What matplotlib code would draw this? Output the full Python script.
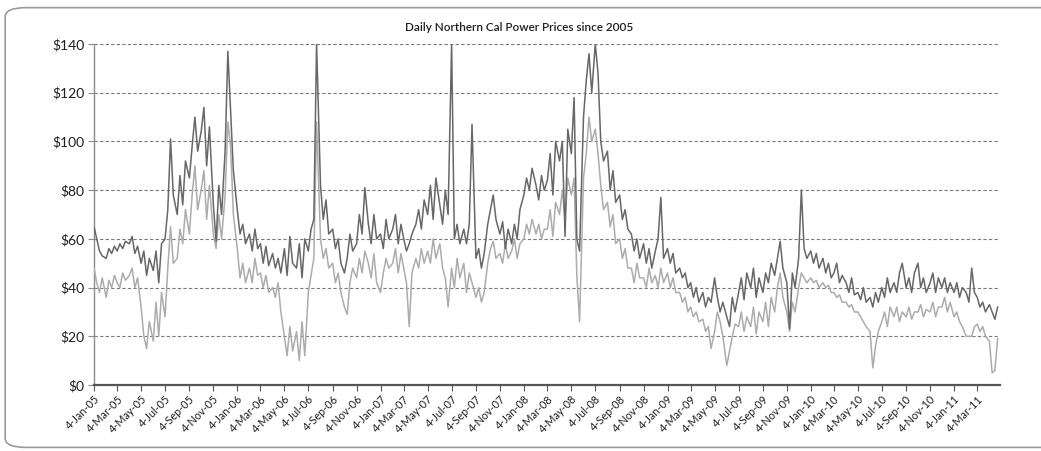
import matplotlib
matplotlib.use("Agg")
import matplotlib.pyplot as plt
import matplotlib.dates as mdates
from matplotlib.patches import FancyBboxPatch
from matplotlib.ticker import FuncFormatter, MultipleLocator
import pandas as pd

# ---- data: 4 readings per month (days 4, 11, 18, 25), Jan-2005 .. Apr-2011 ----
sample_days = [4, 11, 18, 25]
first_month = "2005-01"
last_month = "2011-04"

peak_prices = [
    # 2005
    65, 60, 55, 53,   52, 56, 54, 57,   55, 58, 56, 59,   58, 61, 54, 57,
    50, 55, 45, 52,   47, 55, 42, 58,   60, 72, 101, 78,  70, 86, 74, 92,
    85, 98, 110, 96,  104, 114, 90, 106, 74, 59, 82, 70,  96, 137, 112, 88,
    # 2006
    72, 62, 66, 58,   62, 55, 64, 56,   58, 50, 57, 49,   54, 48, 52, 46,
    56, 45, 61, 50,   48, 58, 44, 60,   55, 64, 68, 140,  82, 68, 76, 62,
    64, 56, 60, 50,   46, 52, 62, 55,   58, 70, 62, 81,   66, 58, 70, 60,
    # 2007
    62, 56, 68, 60,   64, 70, 58, 66,   60, 55, 58, 62,   66, 72, 64, 76,
    70, 82, 68, 85,   74, 66, 80, 70,   140, 60, 66, 58,  64, 58, 66, 107,
    52, 56, 48, 54,   66, 72, 78, 68,   62, 67, 56, 64,   58, 66, 60, 72,
    # 2008
    78, 85, 80, 89,   82, 76, 86, 80,   84, 95, 78, 100,  92, 100, 61, 105,
    95, 118, 60, 55,  110, 125, 136, 120, 140, 128, 100, 92, 96, 80, 88, 75,
    78, 68, 72, 64,   62, 55, 60, 52,   58, 50, 56, 48,   55, 60, 77, 52,
    # 2009
    56, 50, 54, 46,   48, 44, 46, 40,   42, 36, 40, 34,   38, 32, 36, 34,
    44, 36, 30, 34,   28, 24, 36, 30,   38, 44, 35, 46,   40, 48, 36, 44,
    38, 46, 42, 50,   45, 52, 59, 48,   42, 23, 46, 40,   52, 80, 56, 52,
    # 2010
    55, 50, 54, 48,   52, 46, 50, 44,   46, 50, 42, 45,   42, 38, 44, 37,
    38, 35, 40, 34,   36, 32, 38, 34,   40, 36, 44, 38,   42, 38, 46, 50,
    40, 44, 38, 46,   50, 40, 44, 38,   42, 46, 38, 44,   40, 44, 38, 42,
    # 2011
    38, 42, 36, 40,   38, 34, 48, 38,   36, 32, 34, 30,   33, 30, 27, 32,
]

offpeak_prices = [
    # 2005
    48, 42, 38, 44,   36, 43, 40, 45,   42, 40, 46, 43,   45, 48, 40, 44,
    32, 20, 15, 26,   18, 34, 20, 38,   28, 48, 65, 50,   52, 64, 58, 72,
    62, 78, 90, 72,   80, 88, 68, 82,   62, 56, 70, 60,   78, 108, 98, 70,
    # 2006
    56, 44, 50, 42,   48, 42, 52, 45,   46, 40, 45, 38,   40, 36, 42, 30,
    20, 12, 24, 14,   22, 10, 26, 12,   38, 45, 52, 108,  60, 52, 56, 48,
    50, 42, 46, 38,   32, 29, 42, 48,   44, 52, 46, 55,   50, 44, 54, 42,
    # 2007
    38, 46, 52, 48,   50, 56, 46, 54,   48, 42, 24, 46,   52, 48, 56, 50,
    55, 50, 60, 52,   58, 48, 44, 32,   48, 40, 52, 44,   50, 38, 46, 42,
    36, 40, 34, 38,   50, 56, 59, 52,   54, 50, 58, 52,   55, 60, 52, 58,
    # 2008
    60, 66, 62, 68,   62, 66, 60, 64,   64, 72, 61, 75,   70, 80, 68, 85,
    78, 85, 45, 26,   85, 95, 110, 100, 105, 95, 82, 72,  75, 65, 70, 58,
    60, 52, 56, 48,   48, 42, 50, 44,   44, 40, 48, 42,   45, 40, 48, 42,
    # 2009
    46, 40, 44, 38,   38, 34, 36, 30,   32, 28, 30, 26,   27, 22, 24, 15,
    22, 30, 26, 20,   8, 14, 20, 25,    24, 30, 22, 28,   24, 32, 21, 30,
    26, 34, 24, 36,   30, 40, 46, 36,   30, 22, 34, 30,   40, 46, 44, 42,
    # 2010
    44, 42, 43, 40,   42, 40, 41, 38,   38, 36, 37, 34,   34, 32, 33, 30,
    30, 28, 26, 24,   22, 7, 16, 22,    26, 30, 24, 32,   28, 32, 26, 30,
    28, 32, 27, 30,   30, 33, 28, 31,   30, 34, 28, 32,   32, 36, 30, 34,
    # 2011
    28, 30, 26, 24,   20, 20, 20, 24,   25, 22, 24, 20,   18, 5, 6, 19,
]

title_text = "Daily Northern Cal Power Prices since 2005"

# ---- build dates ----
months = pd.period_range(first_month, last_month, freq="M")
dates = [pd.Timestamp(year=m.year, month=m.month, day=d) for m in months for d in sample_days]
dates = dates[:len(peak_prices)]

FONT = ["Lato", "DejaVu Sans"]
plt.rcParams["font.family"] = FONT

fig = plt.figure(figsize=(10.41, 4.51), dpi=100)
fig.patch.set_facecolor("white")

# chart-area border (rounded)
border = FancyBboxPatch((0.005, 0.008), 1.02, 0.975,
                        boxstyle="round,pad=0,rounding_size=0.02",
                        transform=fig.transFigure, facecolor="none",
                        edgecolor="#9a9a9a", linewidth=1.2, clip_on=False)
fig.patches.append(border)

ax = fig.add_axes([0.0903, 0.1463, 0.8703, 0.7561])
ax.set_facecolor("white")

ax.plot(dates, offpeak_prices, color="#acacac", linewidth=1.1, zorder=3)
ax.plot(dates, peak_prices, color="#676767", linewidth=1.1, zorder=4)

ax.set_ylim(0, 140)
ax.set_xlim(pd.Timestamp("2005-01-04"), pd.Timestamp("2011-05-01"))
ax.yaxis.set_major_locator(MultipleLocator(20))
ax.yaxis.set_major_formatter(FuncFormatter(lambda v, p: f"${v:.0f}"))

ax.xaxis.set_major_locator(mdates.MonthLocator(bymonth=[1, 3, 5, 7, 9, 11], bymonthday=4))
ax.xaxis.set_major_formatter(FuncFormatter(
    lambda v, p: f"{mdates.num2date(v).day}-{mdates.num2date(v).strftime('%b-%y')}"))

ax.grid(axis="y", color="#7a7a7a", linestyle=(0, (3, 2)), linewidth=0.8, zorder=1)
ax.set_axisbelow(True)

for s in ("top", "right"):
    ax.spines[s].set_visible(False)
ax.spines["left"].set_color("#8a8a8a")
ax.spines["left"].set_linewidth(1.0)
ax.spines["bottom"].set_color("#555555")
ax.spines["bottom"].set_linewidth(1.6)

ax.tick_params(axis="y", length=4, color="#8a8a8a", labelsize=10, labelcolor="#1e1e1e", pad=3)
ax.tick_params(axis="x", length=4, color="#555555", labelsize=7.8, labelcolor="#1e1e1e", pad=2)
for lbl in ax.get_xticklabels():
    lbl.set_rotation(45)
    lbl.set_ha("right")
    lbl.set_rotation_mode("anchor")

fig.text(0.499, 0.938, title_text, ha="center", va="center", fontsize=8.5,
         fontweight="semibold", color="#1e1e1e")

fig.savefig("out.png", dpi=100, facecolor="white")
